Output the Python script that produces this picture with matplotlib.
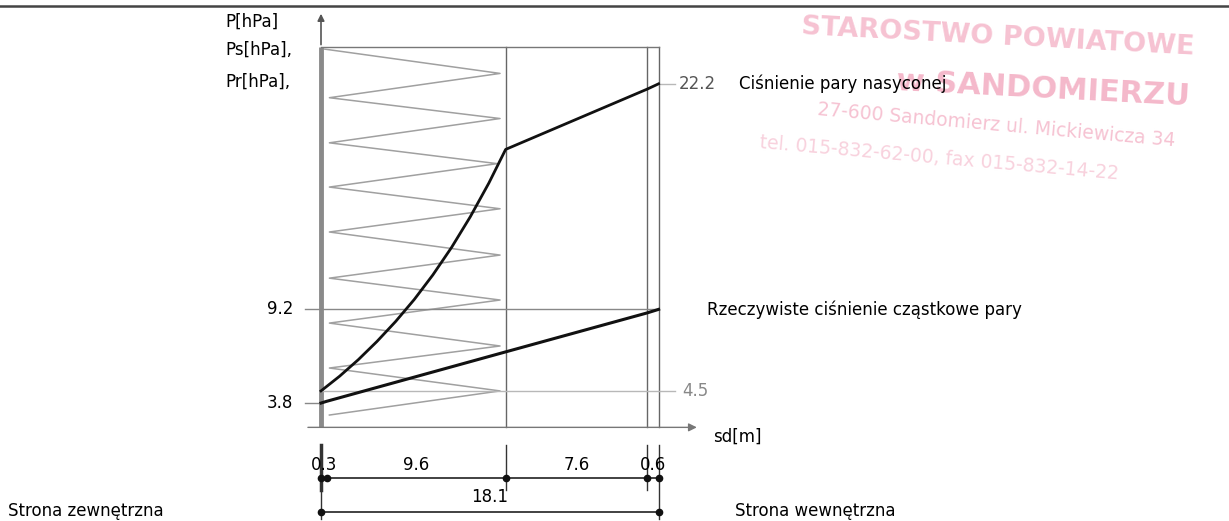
import matplotlib.pyplot as plt
import numpy as np
from matplotlib.lines import Line2D

# layer thicknesses sd [m] (outside -> inside)
sd_layers = [0.3, 9.6, 7.6, 0.6]
sd_labels = ["0.3", "9.6", "7.6", "0.6"]
sd_total = 18.1

# saturation vapour pressure Ps [hPa] along sd
ps_sd = [0.0, 1.0, 2.0, 3.0, 4.0, 5.0, 6.0, 7.0, 8.0, 9.0, 9.9, 17.5, 18.1]
ps_val = [4.5, 5.35, 6.3, 7.35, 8.5, 9.77, 11.19, 12.77, 14.53, 16.48, 18.42, 21.9, 22.2]

# actual partial vapour pressure Pr [hPa]
pr_sd = [0.0, 0.3, 9.9, 17.5, 18.1]
pr_val = [3.8, 3.9, 6.75, 9.0, 9.2]

# insulation hatch (zig-zag) vertices
zig_sd = [0.2, 9.6, 0.45, 9.6, 0.45, 9.45, 0.45, 9.6, 0.45, 9.6, 0.45, 9.6,
          0.45, 9.6, 0.45, 9.6, 0.45]
zig_p = [24.2, 22.8, 21.4, 20.2, 18.8, 17.6, 16.25, 15.0, 13.66, 12.33, 11.0,
         9.74, 8.41, 7.09, 5.82, 4.5, 3.11]

p_top = 24.3      # top edge of the section
p_axis = 2.4      # level of the sd axis
p_in, p_out = 9.2, 3.8
ps_in, ps_out = 22.2, 4.5

bounds = np.concatenate([[0], np.cumsum(sd_layers)])
mids = (bounds[:-1] + bounds[1:]) / 2

# pixel mapping of the original drawing
W, H = 1229, 521
x0, y0 = 321, 469
kx, ky = 18.65, 17.35

fig = plt.figure(figsize=(W / 100, H / 100), dpi=100)
ax = fig.add_axes([0, 0, 1, 1])
ax.set_xlim(-x0 / kx, (W - x0) / kx)
ax.set_ylim((y0 - H) / ky, y0 / ky)
ax.axis("off")

# scan edge at the top
fig.add_artist(Line2D([0, 1], [0.988, 0.988], color="#444444", lw=1.8))

# office stamp (faint, behind the drawing)
pink = "#f09ab4"
ax.text(25.7, 24.9, "STAROSTWO POWIATOWE", fontsize=19.5, color=pink, rotation=-3,
        weight="bold", alpha=0.6, va="center", zorder=0)
ax.text(30.8, 21.9, "w SANDOMIERZU", fontsize=22, color=pink, rotation=-3,
        weight="bold", alpha=0.7, va="center", zorder=0)
ax.text(26.6, 19.8, "27-600 Sandomierz ul. Mickiewicza 34", fontsize=13.5, color=pink,
        rotation=-5, alpha=0.6, va="center", zorder=0)
ax.text(23.5, 17.9, "tel. 015-832-62-00, fax 015-832-14-22", fontsize=13.5, color=pink,
        rotation=-5, alpha=0.45, va="center", zorder=0)

# section outline
ax.plot([0, 0], [p_axis, p_top], color="#8a8a8a", lw=3.5, solid_capstyle="butt")
for b in bounds[2:]:
    ax.plot([b, b], [p_axis, p_top], color="#666666", lw=1)
ax.plot([0, sd_total], [p_top, p_top], color="#777777", lw=1)

# insulation hatch
ax.plot(zig_sd, zig_p, color="#a0a0a0", lw=1.1)

# reference lines
ax.plot([-0.85, sd_total], [p_in, p_in], color="#888888", lw=1)
ax.plot([-0.85, 0], [p_out, p_out], color="#888888", lw=1)
ax.plot([0, 19.0], [ps_out, ps_out], color="#b8b8b8", lw=1)
ax.plot([sd_total, 19.0], [ps_in, ps_in], color="#b8b8b8", lw=1)

# pressure curves
ax.plot(ps_sd, ps_val, color="#111111", lw=2)
ax.plot(pr_sd, pr_val, color="#111111", lw=2.2)

# axes arrows
ax.annotate("", xy=(0, 26.4), xytext=(0, p_top),
            arrowprops=dict(arrowstyle="-|>", color="#555555", lw=1.2, mutation_scale=10))
ax.annotate("", xy=(20.3, p_axis), xytext=(-0.85, p_axis),
            arrowprops=dict(arrowstyle="-|>", color="#777777", lw=1, mutation_scale=12))

fs = 12
ax.text(-5.15, 25.8, "P[hPa]", fontsize=fs, va="center")
ax.text(-5.15, 24.15, "Ps[hPa],", fontsize=fs, va="center")
ax.text(-5.15, 22.3, "Pr[hPa],", fontsize=fs, va="center")
ax.text(-1.5, p_in, f"{p_in}", fontsize=fs, ha="right", va="center")
ax.text(-1.5, p_out, f"{p_out}", fontsize=fs, ha="right", va="center")
ax.text(19.2, ps_in, f"{ps_in}", fontsize=fs, va="center", color="#555555")
ax.text(19.35, ps_out, f"{ps_out}", fontsize=fs, va="center", color="#888888")
ax.text(22.4, ps_in, "Ciśnienie pary nasyconej", fontsize=fs, va="center")
ax.text(20.7, p_in, "Rzeczywiste ciśnienie cząstkowe pary", fontsize=fs, va="center")
ax.text(21.0, 1.85, "sd[m]", fontsize=fs, va="center")

# dimension lines
row1, row2 = -0.52, -2.48
ax.plot([0, 0], [1.4, -2.9], color="#333333", lw=1)
ax.plot([0, 0], [1.4, -1.2], color="#333333", lw=2.5)
for b in bounds[2:-1]:
    ax.plot([b, b], [1.4, -1.2], color="#333333", lw=1)
ax.plot([sd_total, sd_total], [1.4, -2.9], color="#333333", lw=1)
ax.plot([0, sd_total], [row1, row1], color="#333333", lw=1.3)
ax.plot(bounds, [row1] * len(bounds), "o", color="#111111", ms=4.5)
ax.plot([0, sd_total], [row2, row2], color="#333333", lw=1.3)
ax.plot([0, sd_total], [row2, row2], "o", color="#111111", ms=4.5)
for m, lab in zip(mids, sd_labels):
    ax.text(m, 0.25, lab, fontsize=fs, ha="center", va="center")
ax.text(sd_total / 2, -1.6, f"{sd_total}", fontsize=fs, ha="center", va="center")

ax.text(-16.8, -2.4, "Strona zewnętrzna", fontsize=12, va="center")
ax.text(22.2, -2.4, "Strona wewnętrzna", fontsize=12, va="center")

fig.savefig("out.png", dpi=100)
